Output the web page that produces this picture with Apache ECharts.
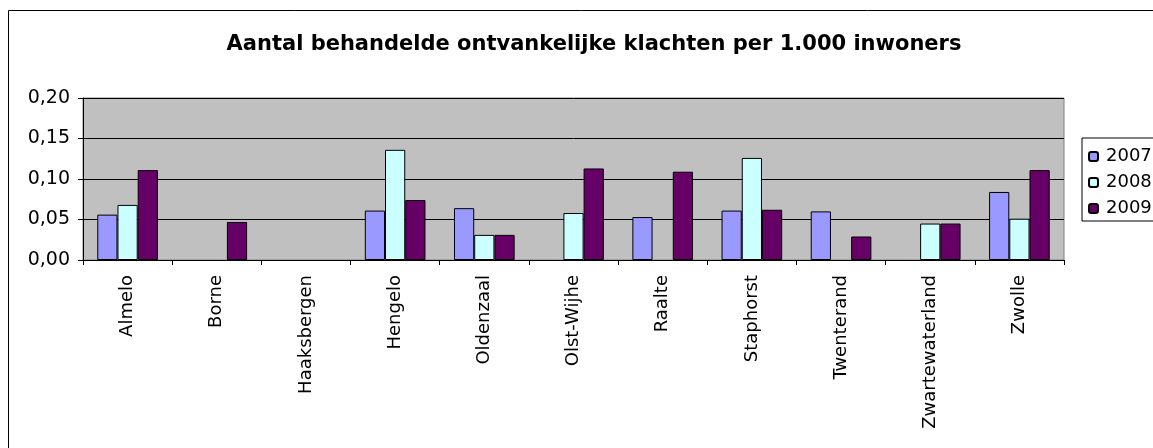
<!DOCTYPE html>
<html>
<head>
<meta charset="utf-8">
<script src="https://cdn.jsdelivr.net/npm/echarts@6/dist/echarts.min.js"></script>
<style>
  html, body { margin: 0; padding: 0; background: #fff; }
  #main { width: 1153px; height: 448px; }
</style>
</head>
<body>
<div id="main"></div>
<script>
// gemeenten (categorieen)
var gemeenten = ['Almelo', 'Borne', 'Haaksbergen', 'Hengelo', 'Oldenzaal', 'Olst-Wijhe',
    'Raalte', 'Staphorst', 'Twenterand', 'Zwartewaterland', 'Zwolle'];

// klachten per 1.000 inwoners, null = geen waarde
var jaar2007 = [0.056, null, null, 0.061, 0.064, null, 0.053, 0.061, 0.060, null, 0.084];
var jaar2008 = [0.068, null, null, 0.136, 0.031, 0.058, null, 0.126, null, 0.045, 0.051];
var jaar2009 = [0.111, 0.047, null, 0.074, 0.031, 0.113, 0.109, 0.062, 0.029, 0.045, 0.111];

var yTicks = [0, 0.05, 0.10, 0.15, 0.20];

var chart = echarts.init(document.getElementById('main'));

var font = 'DejaVu Sans';

function bar(name, data, color) {
    return {
        name: name,
        type: 'bar',
        data: data,
        barGap: '0%',
        barCategoryGap: '32%',
        itemStyle: {
            color: color,
            borderColor: '#000',
            borderWidth: 1
        }
    };
}

chart.setOption({
    animation: false,
    textStyle: { fontFamily: font },
    title: {
        text: 'Aantal behandelde ontvankelijke klachten per 1.000 inwoners',
        left: 589,
        textAlign: 'center',
        top: 29,
        textStyle: { fontFamily: font, fontSize: 21, fontWeight: 'bold', color: '#000' }
    },
    graphic: [{
        type: 'rect',
        shape: { x: 8.5, y: 10.5, width: 1160, height: 460 },
        style: { fill: 'none', stroke: '#000', lineWidth: 1 },
        silent: true,
        z: -1
    }],
    legend: {
        orient: 'vertical',
        left: 1082,
        top: 138,
        padding: [9, 20, 3, 6],
        itemWidth: 9,
        itemHeight: 9,
        itemGap: 7,
        borderColor: '#000',
        borderWidth: 1,
        backgroundColor: '#fff',
        textStyle: { fontFamily: font, fontSize: 18, lineHeight: 19, color: '#000', padding: [0, 0, 0, 3] },
        data: ['2007', '2008', '2009']
    },
    grid: {
        left: 83,
        right: 89,
        top: 98,
        bottom: 188,
        show: true,
        backgroundColor: '#C0C0C0',
        borderColor: '#808080',
        borderWidth: 1
    },
    xAxis: {
        type: 'category',
        data: gemeenten,
        boundaryGap: true,
        axisLine: { lineStyle: { color: '#000', width: 1 } },
        axisTick: { show: true, alignWithLabel: false, length: 5, lineStyle: { color: '#000' } },
        axisLabel: {
            rotate: 90,
            margin: 15,
            fontSize: 18,
            color: '#000',
            fontFamily: font,
            interval: 0
        }
    },
    yAxis: {
        type: 'value',
        min: yTicks[0],
        max: yTicks[yTicks.length - 1],
        interval: 0.05,
        axisLine: { show: true, lineStyle: { color: '#000', width: 1 } },
        axisTick: { show: true, length: 5, lineStyle: { color: '#000' } },
        splitLine: { show: true, lineStyle: { color: '#000', width: 1 } },
        axisLabel: {
            margin: 13,
            fontSize: 19,
            color: '#000',
            fontFamily: font,
            formatter: function (v) { return v.toFixed(2).replace('.', ','); }
        }
    },
    series: [
        bar('2007', jaar2007, '#9999FF'),
        bar('2008', jaar2008, '#CCFFFF'),
        bar('2009', jaar2009, '#660066')
    ]
});
</script>
</body>
</html>
